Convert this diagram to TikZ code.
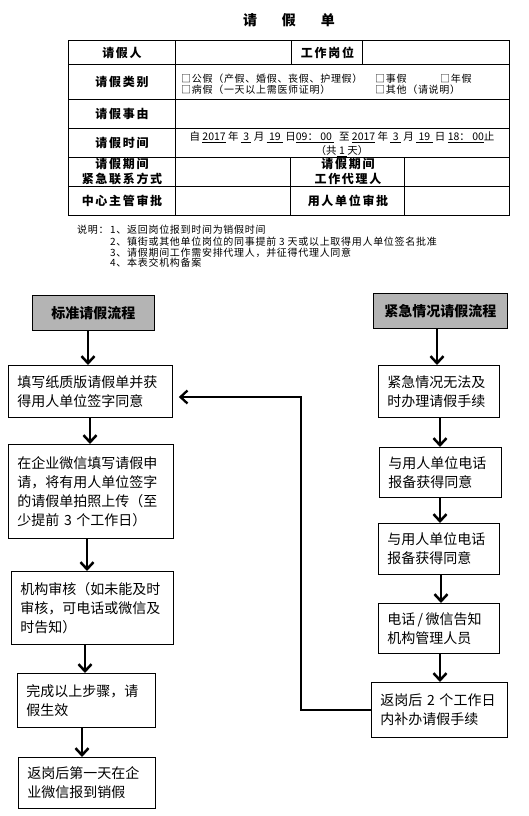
\documentclass[tikz,border=0pt]{standalone}
\usepackage{fontspec}
\setmainfont{Noto Sans CJK SC}
\newfontfamily\spacedfont[LetterSpace=7]{Noto Sans CJK SC}
\newfontfamily\labfont[LetterSpace=14]{Noto Sans CJK SC}
\usetikzlibrary{arrows.meta}
\definecolor{headgray}{RGB}{180,180,180}
\begin{document}
\begin{tikzpicture}[x=1pt,y=-1pt,
  box/.style={draw,line width=0.8pt,align=left,inner xsep=9pt,inner ysep=0pt,font=\fontsize{14}{19}\selectfont,anchor=north west},
  headbox/.style={draw,line width=0.8pt,fill=headgray,font=\bfseries\fontsize{14}{17}\selectfont,anchor=north west,inner sep=0pt},
  arr/.style={line width=2.5pt,-{Straight Barb[length=7pt,width=13pt]}},
  lab/.style={font=\labfont\bfseries\fontsize{12}{14.5}\selectfont,align=center,inner sep=0pt},
  small/.style={font=\spacedfont\fontsize{10}{11}\selectfont,anchor=west,inner sep=0pt},
  tsmall/.style={font=\fontsize{10.5}{11}\selectfont,anchor=center,inner sep=0pt},
  tline/.style={line width=0.7pt},
]
\useasboundingbox (0,0) rectangle (528,816);

% title
\node[font=\bfseries\fontsize{14}{16}\selectfont] (title) at (289,20) {请\hspace{25pt}假\hspace{25pt}单};

% table
\draw[line width=1pt] (68,41) rectangle (509,215);
\foreach \yy in {64,99,128,157,186} \draw[tline] (68,\yy) -- (509,\yy);
\draw[tline] (175,41) -- (175,215);
\draw[tline] (291,41) -- (291,64);
\draw[tline] (362,41) -- (362,64);
\draw[tline] (290,157) -- (290,215);
\draw[tline] (404,157) -- (404,215);

\node[lab] (t1) at (122,52.5) {请假人};
\node[lab] (t2) at (327.5,52.5) {工作岗位};
\node[lab] (t3) at (122,81.5) {请假类别};
\node[lab] (t4) at (122,113.5) {请假事由};
\node[lab] (t5) at (122,142.5) {请假时间};
\node[lab] (t6) at (122,171.5) {请假期间\\紧急联系方式};
\node[lab] (t7) at (348,171.5) {请假期间\\工作代理人};
\node[lab] (t8) at (122,200.5) {中心主管审批};
\node[lab] (t9) at (348,200.5) {用人单位审批};

\node[small] (c1) at (181,79) {□公假（产假、婚假、丧假、护理假）};
\node[small] (c2) at (375,79) {□事假};
\node[small] (c3) at (440,79) {□年假};
\node[small] (c4) at (181,90) {□病假（一天以上需医师证明）};
\node[small] (c5) at (375,90) {□其他（请说明）};

\node[tsmall] (time) at (342,137) {自\ \underline{2017}\ 年\ \underline{\ 3\ }\ 月\ \underline{\ 19\ }\ 日\underline{09：\ 00\ }\ \ 至\ \underline{2017}\ 年\ \underline{\ 3\ }\ 月\ \underline{\ 19\ }\ 日\ \underline{18：\ 00}止};
\node[tsmall] (days) at (342,151) {（共\underline{\ 1\ }天）};

% notes
\node[small] (n0) at (77,230) {说明：};
\node[small] (n1) at (110,230) {1、返回岗位报到时间为销假时间};
\node[small] (n2) at (110,241.5) {2、镇街或其他单位岗位的同事提前 3 天或以上取得用人单位签名批准};
\node[small] (n3) at (110,252.5) {3、请假期间工作需安排代理人，并征得代理人同意};
\node[small] (n4) at (110,263) {4、本表交机构备案};

% left flow
\node[headbox, minimum width=122pt, minimum height=35pt] (hL) at (32,295) {标准请假流程};
\node[box, minimum width=164pt, minimum height=52pt, text width=146pt] (L1) at (8,365) {填写纸质版请假单并获\\得用人单位签字同意};
\node[box, minimum width=165pt, minimum height=94pt, text width=147pt] (L2) at (8,444) {在企业微信填写请假申\\请，将有用人单位签字\\的请假单拍照上传（至\\少提前 3 个工作日）};
\node[box, minimum width=162pt, minimum height=73pt, text width=144pt] (L3) at (11,571) {机构审核（如未能及时\\审核，可电话或微信及\\时告知）};
\node[box, minimum width=138pt, minimum height=54pt, text width=120pt] (L4) at (17,673) {完成以上步骤，请\\假生效};
\node[box, minimum width=137pt, minimum height=51pt, text width=119pt] (L5) at (18,757) {返岗后第一天在企\\业微信报到销假};

% right flow
\node[headbox, minimum width=134pt, minimum height=35pt] (hR) at (373,293) {紧急情况请假流程};
\node[box, minimum width=121pt, minimum height=52pt, text width=103pt] (R1) at (378,365) {紧急情况无法及\\时办理请假手续};
\node[box, minimum width=122pt, minimum height=50pt, text width=104pt] (R2) at (379,447) {与用人单位电话\\报备获得同意};
\node[box, minimum width=121pt, minimum height=51pt, text width=103pt] (R3) at (378,523) {与用人单位电话\\报备获得同意};
\node[box, minimum width=121pt, minimum height=50pt, text width=103pt] (R4) at (378,603) {电话\,/\,微信告知\\机构管理人员};
\node[box, minimum width=136pt, minimum height=55pt, text width=118pt] (R5) at (371,682) {返岗后 2 个工作日\\内补办请假手续};

% arrows
\draw[arr] (hL.south -| 88,0) -- (L1.north -| 88,0);
\draw[arr] (L1.south -| 90,0) -- (L2.north -| 90,0);
\draw[arr] (L2.south -| 87,0) -- (L3.north -| 87,0);
\draw[arr] (L3.south -| 85,0) -- (L4.north -| 85,0);
\draw[arr] (L4.south -| 82,0) -- (L5.north -| 82,0);

\draw[arr] (hR.south -| 437,0) -- (R1.north -| 437,0);
\draw[arr] (R1.south -| 440,0) -- (R2.north -| 440,0);
\draw[arr] (R2.south -| 440,0) -- (R3.north -| 440,0);
\draw[arr] (R3.south -| 441,0) -- (R4.north -| 441,0);
\draw[arr] (R4.south -| 440,0) -- (R5.north -| 440,0);

\coordinate (bend) at (301,397);
\draw[line width=2.3pt,line join=miter,-{Straight Barb[length=7pt,width=13pt]}] (R5.west) -| (bend) -- ([xshift=6pt]L1.east |- bend);
\end{tikzpicture}
\end{document}
